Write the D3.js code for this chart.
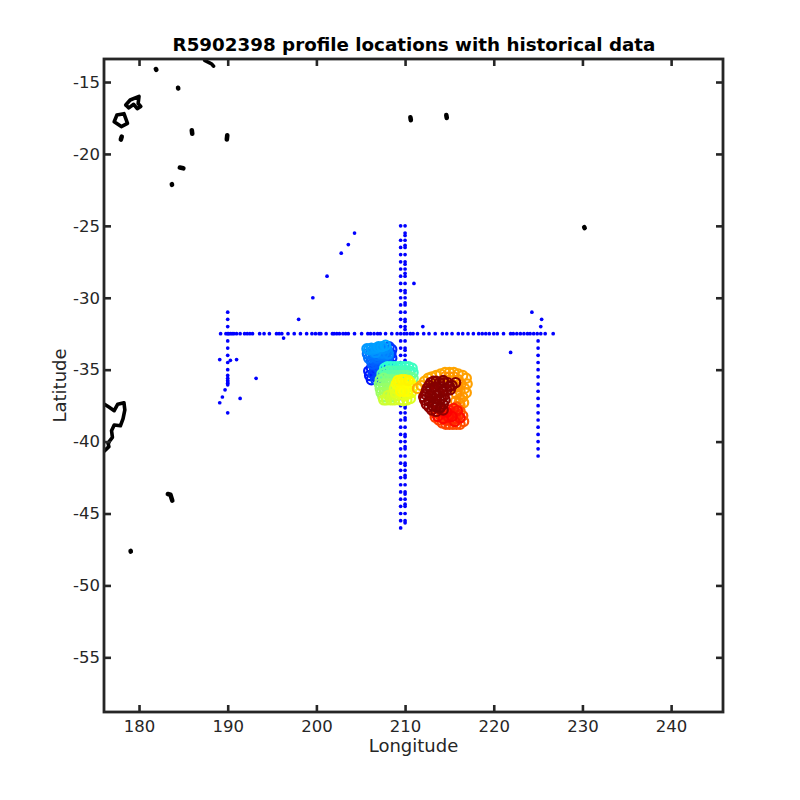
<!DOCTYPE html>
<html><head><meta charset="utf-8">
<script src="https://cdn.jsdelivr.net/npm/d3@7/dist/d3.min.js"></script>
<style>html,body{margin:0;background:#fff}svg{display:block}text{font-family:"DejaVu Sans",sans-serif;fill:#262626}</style>
</head><body><svg id="c" width="800" height="800"></svg>
<script>
const title="R5902398 profile locations with historical data";
const xLabel="Longitude", yLabel="Latitude";
const xTicks=[180,190,200,210,220,230,240];
const yTicks=[-15,-20,-25,-30,-35,-40,-45,-50,-55];

// historical data
const ridgeLon=[189.2,189.8,190.0,190.1,190.3,190.5,190.7,191,191.4,191.9,192.2,192.5,192.8,193.6,194.1,194.7,195.5,195.8,196.1,196.8,197.5,198.2,198.9,199.5,199.9,200.3,200.5,201.1,201.8,202.0,202.3,202.6,203,203.3,203.6,204.3,205.1,205.8,206.1,206.5,206.9,207.2,207.8,208.5,209.1,209.5,209.9,210.2,210.6,210.9,211.4,212.1,212.7,213.4,214.2,214.7,215.3,216,216.5,217.1,217.7,218.3,218.7,219.1,219.5,220,220.4,221.1,221.9,222.2,222.6,223,223.4,223.8,224.1,224.5,224.9,225.3,225.8,226.7];
const colALat=[-25,-26,-26.5,-27,-27.5,-28,-28.5,-29,-29.5,-30,-30.5,-31,-31.5,-32,-33,-33.5,-34,-34.5,-35,-35.5,-36,-36.5,-37,-37.5,-38,-38.5,-39,-39.5,-40,-40.5,-41,-41.5,-42,-42.5,-43,-43.5,-44,-44.5,-45,-45.5,-46];
const colBLat=[-25,-25.5,-25.67,-26,-26.35,-26.5,-27,-27.5,-27.67,-28,-28.3,-28.5,-29,-29.5,-29.65,-30,-30.35,-30.5,-31,-31.5,-31.65,-32,-32.2,-33,-33.5,-33.65,-34,-34.35,-34.5,-35,-35.5,-35.65,-36,-36.35,-36.5,-37,-37.5,-37.65,-38,-38.35,-38.5,-39,-39.5,-39.65,-40,-40.35,-40.5,-41,-41.5,-41.65,-42,-42.35,-42.5,-43,-43.5,-43.65,-44,-44.35,-44.5,-45,-45.5,-45.65];
const colCLat=[-33,-33.5,-34,-34.5,-35,-35.5,-36,-36.5,-37,-37.5,-38,-38.5,-39,-39.5,-40,-40.5,-41];
const colDLat=[-31,-31.5,-32,-33,-33.5,-34,-34.5,-35,-35.4,-35.6,-35.75,-35.85,-35.95,-36.05,-38];
const looseLon=[189.1,190.3,191,189.7,189.4,189.1,191.4,193.2,196.3,198,199.6,201.2,202.8,203.6,204.3,224.3,225.4,225.3,221.9,212,211];
const looseLat=[-34.3,-34.35,-34.3,-36.4,-36.9,-37.3,-37,-35.6,-32.8,-31.5,-30,-28.5,-26.9,-26.3,-25.5,-31,-31.5,-32,-33.8,-32,-29];
const colALon=209.5, colBLon=210.0, colCLon=225.0, colDLon=190.0, ridgeLat=-32.5;

// float track, phase by phase, in time order [lon,lat]
const trackBlue=[[206.2,-35.7],[206,-35.4],[205.9,-35.1],[206.2,-34.9],[206.5,-35.2],[206.7,-35.5],[207,-35.3],[206.8,-35],[208.4,-34.6],[208.5,-34.2],[208.5,-33.6],[208.4,-33.9],[206.5,-34.8],[206.9,-34.6],[207.3,-34.9],[207.6,-34.6],[208,-34.5],[208.3,-33.9],[208.2,-33.4],[206.9,-34.9],[206.6,-35],[206.4,-35.3],[206.7,-35.7],[207,-35.6],[207.2,-35.2],[207.4,-35.1],[207.7,-34.9],[208,-34.7],[208.2,-34.8],[207.85,-34.65],[207.45,-34.6],[207,-34.85],[207.2,-34.7],[207.6,-34.5],[207.1,-34.5],[206.7,-34.55],[206.3,-34.6],[206.2,-34.4],[206.6,-34.3],[207.1,-34.3],[207.5,-34.3],[207.9,-34.3],[208.1,-34.1],[207.7,-34.2],[207.3,-34.15],[206.8,-34.2],[206.4,-34.1],[205.9,-34.2],[205.75,-33.9],[206.1,-33.9],[206.9,-34],[207.4,-34],[207.8,-34],[208,-33.7],[207.7,-33.6],[207.3,-33.7],[206.9,-33.7],[206.5,-33.8],[207.2,-33.85],[207.6,-33.85],[208.1,-33.9],[207.9,-33.5],[207.5,-33.55],[207,-33.55],[206.7,-33.8],[206.4,-33.6],[205.7,-33.55],[205.9,-33.6],[206.2,-33.5],[206.7,-33.5],[207,-33.4],[207.4,-33.4],[207.8,-33.3]];
const trackCyan=[[207.7,-34.9],[208,-34.8],[208.4,-34.8],[208.8,-34.8],[209.2,-34.8],[209.6,-34.8],[210,-34.8],[210.4,-34.8],[210.8,-34.9],[210.9,-35.2],[210.5,-35.1],[210.1,-35.1],[209.7,-35.1],[209.3,-35.1],[208.9,-35.1],[208.5,-35.1],[208.1,-35.1],[207.7,-35.2],[207.4,-35.3],[207.8,-35.4],[208.2,-35.4],[208.6,-35.4],[209,-35.4],[209.4,-35.4],[209.8,-35.4],[210.2,-35.4],[210.6,-35.5],[210.9,-35.6],[210.4,-35.7],[210,-35.7],[209.6,-35.7],[209.2,-35.7],[208.8,-35.7],[208.4,-35.7],[208,-35.7],[207.6,-35.6],[207.2,-35.7],[207.1,-36],[207.5,-36],[207.9,-36],[208.3,-36],[208.7,-36],[207.2,-36.3],[207.6,-36.3],[208,-36.3],[208.4,-36.3],[207.3,-36.6],[207.7,-36.6],[208.1,-36.6],[208.5,-36.6],[207.5,-36.9],[207.9,-36.9],[208.3,-36.9],[208.7,-36.9]];
const trackYellow=[[207.6,-37.1],[207.9,-37.1],[208.4,-37.1],[208.1,-36.8],[208.6,-36.7],[208.8,-37.1],[209,-36.8],[209.4,-37.1],[209.8,-37.15],[210.2,-37.1],[210.6,-37],[208.8,-36.3],[208.9,-36.6],[209.1,-36.4],[209.5,-36.7],[209.9,-36.8],[210.3,-36.7],[210.7,-36.6],[210.9,-36.2],[210.5,-36.2],[210.1,-36.3],[209.7,-36.3],[209.3,-36.1],[209,-36],[209.4,-35.9],[209.8,-36],[210.2,-35.9],[210.6,-35.9],[210.3,-36.5],[209.9,-36.5],[209.5,-36.5],[209.2,-35.75],[209.6,-35.7],[210,-35.7],[210.4,-35.75]];
const trackOrange=[[211.4,-36.3],[211.8,-36.1],[212.2,-35.8],[212.6,-35.6],[213,-35.5],[213.5,-35.4],[214,-35.3],[214.5,-35.2],[215,-35.2],[215.5,-35.2],[216,-35.3],[216.5,-35.4],[216.9,-35.6],[217,-36],[216.7,-36.3],[216.9,-36.6],[216.5,-36.9],[216.6,-37.3],[216.2,-37.5],[216.2,-37],[216.2,-36.5],[216.3,-36],[216,-35.7],[215.5,-35.5],[215,-35.5],[214.5,-35.5],[216.1,-37.3],[215.9,-36.2],[215.8,-36.7],[215.7,-37.2]];
const trackRed=[[215.8,-37.6],[216.2,-37.9],[216.5,-38.2],[216.6,-38.6],[216.2,-38.8],[215.8,-38.8],[215.4,-38.8],[215,-38.8],[214.6,-38.8],[214.2,-38.7],[213.8,-38.5],[213.4,-38.3],[213.3,-38],[213.7,-38],[214.1,-38.3],[214.5,-38.5],[214.9,-38.5],[215.3,-38.5],[215.7,-38.4],[216,-38.2],[215.7,-38],[215.3,-38],[214.9,-38.1],[214.5,-38.1],[214.2,-37.9],[215,-37.8],[215.5,-37.7],[215.9,-37.85],[216.2,-38.35],[215.6,-38.6],[214.9,-38.3],[214.3,-38.4],[213.7,-38.25],[215.3,-38.25],[214.7,-37.95]];
const trackDark=[[214.3,-37.8],[213.9,-37.7],[213.5,-37.9],[213,-37.8],[212.7,-37.6],[212.4,-37.4],[212.2,-37.1],[212.1,-36.9],[212.3,-36.7],[212.4,-36.5],[212.5,-36.3],[212.7,-36.1],[212.9,-35.9],[213.2,-35.8],[213.6,-36.2],[213.3,-36.6],[213,-36.9],[213.2,-37.3],[213.7,-37.4],[214.1,-37],[213.9,-36.6],[214.1,-36.2],[214.4,-35.9],[214.8,-35.9],[214.7,-36.4],[214.4,-36.8],[214.5,-37.1],[215.1,-36.4],[215.3,-36.1],[215.7,-35.9],[213.5,-35.8],[213.9,-35.9],[213.3,-36.2],[212.9,-36.4],[212.8,-36.8],[212.7,-37.2],[213.4,-37],[213.9,-37.1],[213.6,-36.8],[214.3,-36.5],[214.3,-37.4],[214,-37.6],[213.5,-37.6],[213.1,-37.5],[215,-36.15],[214.3,-35.75]];
const phases=[[trackBlue,.13,.27],[trackCyan,.40,.53],[trackYellow,.56,.62],[trackOrange,.69,.72],[trackRed,.77,.86],[trackDark,.98,1]];

// coastlines
const coasts=[
 [[187.4,-13.5],[187.9,-13.65],[188.2,-13.75],[188.4,-13.9]],
 [[178.5,-16.6],[179,-16.25],[180,-16],[179.9,-16.5],[180.2,-16.7],[179.8,-16.85],[179.4,-16.55],[178.85,-16.8],[178.5,-16.6]],
 [[177.2,-17.76],[177.5,-17.3],[178.3,-17.2],[178.7,-17.87],[178,-18.1],[177.2,-17.76]],
 [[176.1,-37.4],[176.6,-37.6],[177.2,-37.85],[177.6,-37.4],[178.3,-37.3],[178.4,-37.8],[178.2,-38.4],[177.9,-38.9],[177.2,-38.85],[176.9,-39.25],[177,-39.7],[176.5,-40.1],[176.6,-40.35],[176.1,-40.65]]
];
const islets=[
 [[181.9,-14.1],[181.95,-14.15]],[[184.4,-15.4],[184.42,-15.45]],
 [[178.05,-18.8],[177.95,-19]],[[185.95,-18.35],[186,-18.6]],[[189.95,-18.7],[189.9,-19]],
 [[184.6,-20.95],[185,-21]],[[183.7,-22.1],[183.72,-22.15]],
 [[210.6,-17.45],[210.65,-17.65]],[[214.65,-17.3],[214.7,-17.5]],[[230.2,-25.1],[230.25,-25.15]],
 [[183.25,-43.65],[183.55,-43.7],[183.75,-44.1]],[[179.05,-47.6],[179.07,-47.65]]
];

const L=104,R=723,T=59,B=712;
const x=d3.scaleLinear().domain([176.05,245.85]).range([L,R]);
const y=d3.scaleLinear().domain([-13.4,-58.8]).range([T,B]);
const jet=d3.scaleLinear().domain([0,.11,.36,.61,.86,1]).range(["#0000e6","#0000ff","#00ffff","#ffff00","#ff0000","#800000"]);
const svg=d3.select("#c");
svg.append("defs").append("clipPath").attr("id","pc").append("rect").attr("x",L).attr("y",T).attr("width",R-L).attr("height",B-T);
const plot=svg.append("g").attr("clip-path","url(#pc)");

const line=d3.line().x(d=>x(d[0])).y(d=>y(d[1]));
plot.append("g").selectAll("path").data(coasts).join("path").attr("d",line)
  .attr("fill","none").attr("stroke","#000").attr("stroke-width",3.6).attr("stroke-linecap","round").attr("stroke-linejoin","round");
plot.append("g").selectAll("path").data(islets).join("path").attr("d",line)
  .attr("fill","none").attr("stroke","#000").attr("stroke-width",4.6).attr("stroke-linecap","round").attr("stroke-linejoin","round");

const hist=[...ridgeLon.map(v=>[v,ridgeLat]),...colALat.map(v=>[colALon,v]),...colBLat.map(v=>[colBLon,v]),...colCLat.map(v=>[colCLon,v]),...colDLat.map(v=>[colDLon,v]),...looseLon.map((v,i)=>[v,looseLat[i]])];
plot.append("g").selectAll("circle").data(hist).join("circle")
  .attr("cx",d=>x(d[0])).attr("cy",d=>y(d[1])).attr("r",1.85).attr("fill","#0000ff");

const track=phases.flatMap(([pts,a,b])=>pts.map((p,i)=>({p,t:a+(b-a)*i/(pts.length-1)})));
plot.append("g").selectAll("circle").data(track).join("circle")
  .attr("cx",d=>x(d.p[0])).attr("cy",d=>y(d.p[1])).attr("r",4.6).attr("fill","none")
  .attr("stroke",d=>jet(d.t)).attr("stroke-width",2.2);

svg.append("rect").attr("x",L).attr("y",T).attr("width",R-L).attr("height",B-T).attr("fill","none").attr("stroke","#262626").attr("stroke-width",2.8);

function style(g){g.select(".domain").remove();g.selectAll("line").attr("stroke","#262626").attr("stroke-width",2.6);g.selectAll("text").attr("font-size",16.5).attr("fill","#262626").style("font-family",'"DejaVu Sans",sans-serif');}
svg.append("g").attr("transform",`translate(0,${B})`).call(d3.axisBottom(x).tickValues(xTicks).tickSizeInner(-7).tickPadding(8).tickFormat(d3.format("d"))).call(style);
svg.append("g").attr("transform",`translate(0,${T})`).call(d3.axisTop(x).tickValues(xTicks).tickSizeInner(-7).tickFormat("")).call(style);
svg.append("g").attr("transform",`translate(${L},0)`).call(d3.axisLeft(y).tickValues(yTicks).tickSizeInner(-7).tickPadding(4).tickFormat(d=>String(d))).call(style);
svg.append("g").attr("transform",`translate(${R},0)`).call(d3.axisRight(y).tickValues(yTicks).tickSizeInner(-7).tickFormat("")).call(style);

svg.append("text").attr("x",414).attr("y",51).attr("text-anchor","middle").attr("font-size",18.3).attr("font-weight","bold").style("fill","#000").text(title);
svg.append("text").attr("x",413.5).attr("y",752).attr("text-anchor","middle").attr("font-size",18).text(xLabel);
svg.append("text").attr("transform","translate(66,385.5) rotate(-90)").attr("text-anchor","middle").attr("font-size",18).text(yLabel);
</script></body></html>
